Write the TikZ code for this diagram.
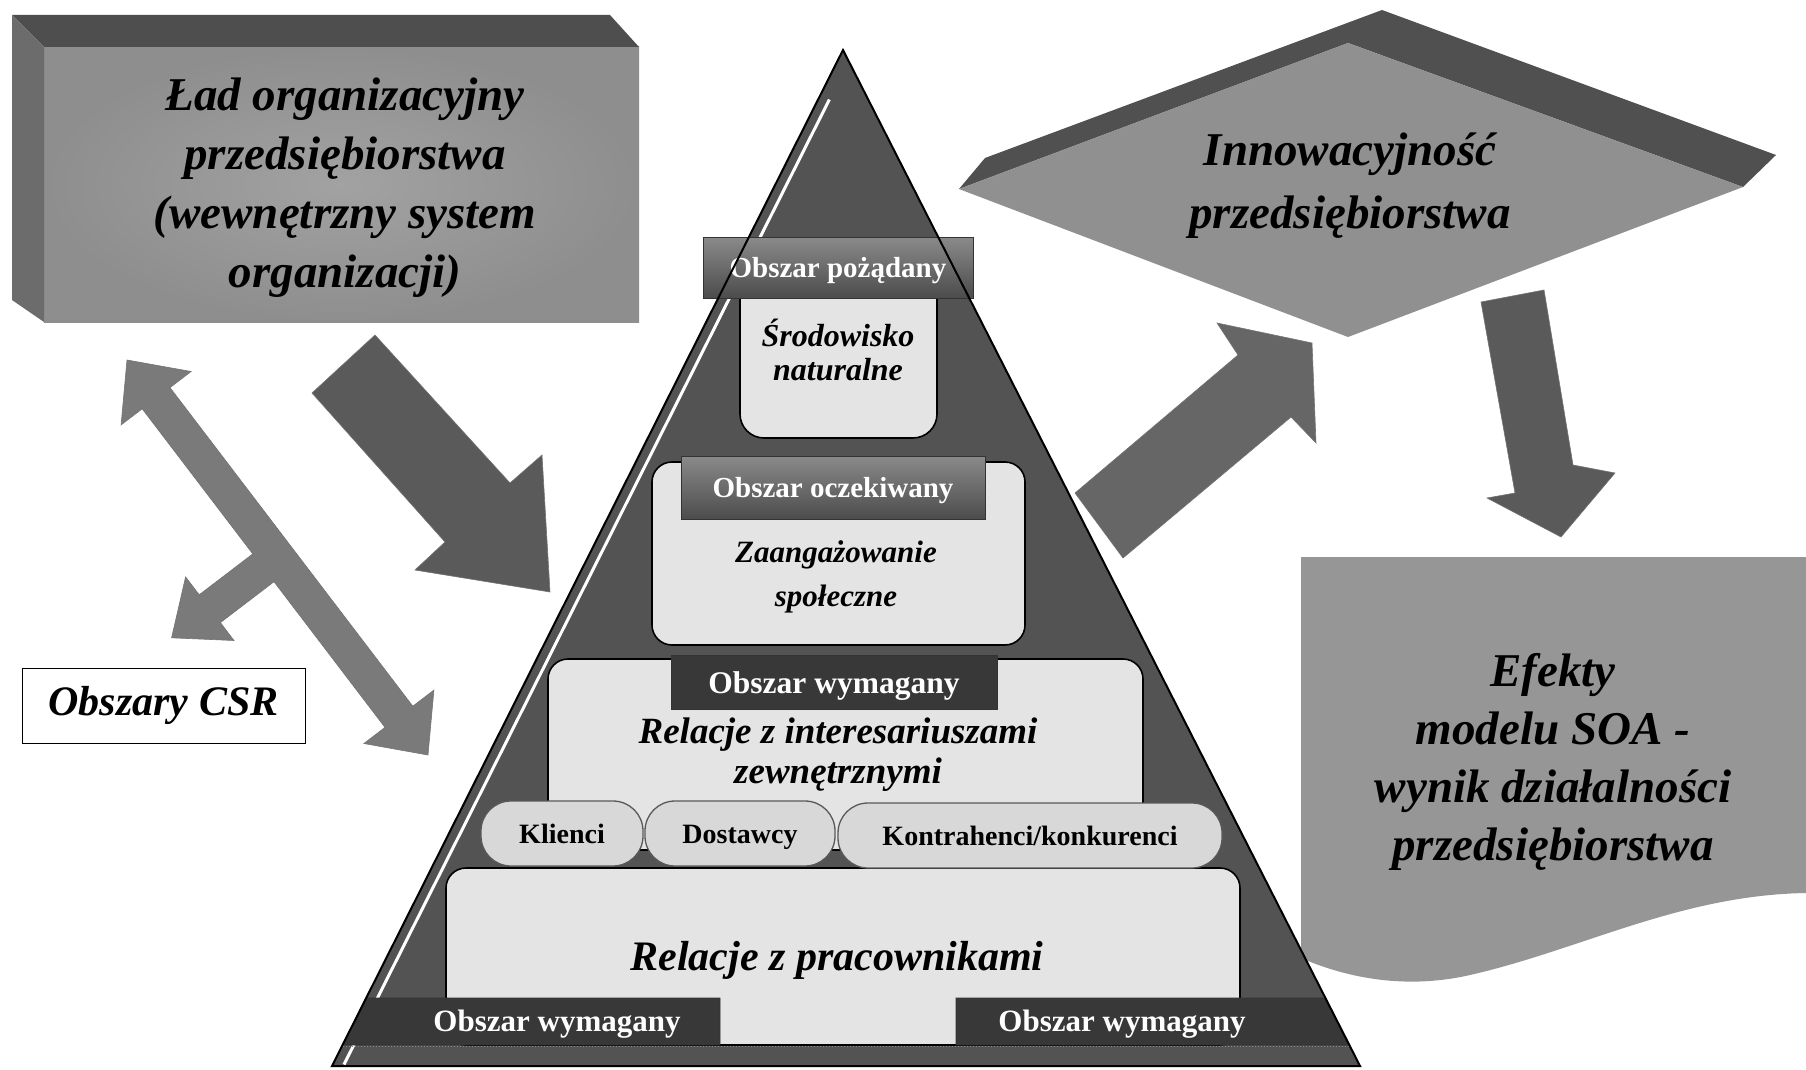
\documentclass[tikz,border=0pt]{standalone}
\usepackage{fontspec}
\setmainfont{Liberation Serif}
\definecolor{boxfront}{HTML}{8E8E8E}
\definecolor{boxfrontin}{HTML}{A2A2A2}
\definecolor{boxtop}{HTML}{4E4E4E}
\definecolor{boxleft}{HTML}{6C6C6C}
\definecolor{diaband}{HTML}{505050}
\definecolor{diaface}{HTML}{909090}
\definecolor{efface}{HTML}{969696}
\definecolor{pyr}{HTML}{535353}
\definecolor{innerc}{HTML}{E4E4E4}
\definecolor{tabtop}{HTML}{8A8A8A}
\definecolor{tabbot}{HTML}{4C4C4C}
\definecolor{tabdark}{HTML}{383838}
\definecolor{pillc}{HTML}{D8D8D8}
\definecolor{arrA}{HTML}{5A5A5A}
\definecolor{arrB}{HTML}{7A7A7A}
\definecolor{arrC}{HTML}{666666}
\begin{document}
\begin{tikzpicture}[x=1pt,y=-1pt,
  bigtitle/.style={font=\bfseries\itshape\fontsize{47}{59}\selectfont, align=center, inner sep=0pt},
  midtitle/.style={font=\bfseries\itshape\fontsize{32}{34}\selectfont, align=center, inner sep=0pt},
  tabtxt/.style={font=\bfseries\fontsize{30}{32}\selectfont, text=white, inner sep=0pt, anchor=base},
  pilltxt/.style={font=\bfseries\fontsize{28}{30}\selectfont, inner sep=0pt, anchor=base},
  innerbox/.style={fill=innerc, draw=black, line width=1.6pt, rounded corners=20pt},
  tabbox/.style={draw=black!80, line width=0.8pt},
  pillbox/.style={fill=pillc, draw=black!65, line width=1.3pt, rounded corners=30pt},
  blockarrow/.style={draw=black!55, line width=0.6pt, line join=miter}
]
\useasboundingbox (0,0) rectangle (1806,1070);
\fill[white] (0,0) rectangle (1806,1070);

% ---------- left 3D box ----------
\shade[inner color=boxfrontin, outer color=boxfront] (44,47) rectangle (639,322);
\fill[boxtop] (12,15) -- (610,15) -- (639,47) -- (44,47) -- cycle;
\fill[boxleft] (12,15) -- (44,47) -- (44,322) -- (12,300) -- cycle;
\node[bigtitle] (lad) at (345,188) {Ład organizacyjny\\przedsiębiorstwa\\(wewnętrzny system\\organizacji)};

% ---------- diamond ----------
\fill[diaband] (959,189) -- (985,158) -- (1382,10) -- (1776,155) -- (1743,187) -- (1348,43) -- cycle;
\fill[diaface] (959,189) -- (1348,43) -- (1743,187) -- (1348,337) -- cycle;
\node[bigtitle, font=\bfseries\itshape\fontsize{47}{63}\selectfont] (inn) at (1350,186) {Innowacyjność\\przedsiębiorstwa};

% ---------- effects box ----------
\fill[efface] (1301,557) -- (1806,557) -- (1806,893)
  .. controls (1680,895) and (1580,950) .. (1470,975)
  .. controls (1400,991) and (1340,975) .. (1301,958) -- cycle;
\node[bigtitle, font=\bfseries\itshape\fontsize{47}{58}\selectfont] (ef) at (1553,762) {Efekty\\modelu SOA -\\wynik działalności\\przedsiębiorstwa};

% ---------- CSR label ----------
\node[draw=black, line width=1pt, fill=white, minimum width=283pt, minimum height=75pt,
      font=\bfseries\itshape\fontsize{42}{46}\selectfont, inner sep=0pt] (csr) at (163.5,705.5) {Obszary CSR};

% ---------- block arrows ----------
\fill[arrA, blockarrow] (375,335) -- (510,483) -- (542,455) -- (550,592) -- (415,570) -- (445,542) -- (312,393) -- cycle;
\fill[arrB, blockarrow] (127,360) -- (191.1,371.5) -- (170.0,387.6) -- (412.8,706.2) -- (433.9,690.1)
  -- (428,755) -- (363.9,743.5) -- (385.0,727.4) -- (274.0,581.7) -- (220.4,622.6) -- (234.0,640.5)
  -- (171.6,637.8) -- (185.6,576.9) -- (199.2,594.8) -- (252.8,553.9) -- (142.2,408.8) -- (121.1,424.9) -- cycle;
\fill[arrC, blockarrow] (1075,493) -- (1238,355) -- (1217,323) -- (1312,343) -- (1316,443) -- (1291,417) -- (1123,558) -- cycle;
\fill[arrA, blockarrow] (1481,302) -- (1544,290) -- (1573,465) -- (1615,473) -- (1561,537) -- (1487,498) -- (1515,493) -- cycle;

% ---------- pyramid ----------
\fill[pyr] (843,50) -- (1360,1066) -- (332,1066) -- cycle;
\draw[white, line width=3pt] (829.4,99.5) -- (344,1064.5);

% level 1
\draw[innerbox, rounded corners=24pt] (740,270) rectangle (937,438);
\shade[top color=tabtop, bottom color=tabbot, tabbox] (703,237) rectangle (973,298);
\node[tabtxt, font=\bfseries\fontsize{29}{32}\selectfont] (t1) at (838,277) {Obszar pożądany};
\node[midtitle] (l1) at (838,350) {Środowisko\\naturalne};

% level 2
\draw[innerbox] (652,462) rectangle (1025,645);
\shade[top color=tabtop, bottom color=tabbot, tabbox] (681,456) rectangle (985,519);
\node[tabtxt, font=\bfseries\fontsize{29}{32}\selectfont] (t2) at (833,497) {Obszar oczekiwany};
\node[midtitle, font=\bfseries\itshape\fontsize{31}{44}\selectfont] (l2) at (836,577) {Zaangażowanie\\społeczne};

% level 3
\draw[innerbox] (548,659) rectangle (1143,850);
\fill[tabdark, tabbox] (671,655) rectangle (997,709);
\node[tabtxt, font=\bfseries\fontsize{31.5}{32}\selectfont] (t3) at (834,693) {Obszar wymagany};
\node[midtitle, font=\bfseries\itshape\fontsize{37}{40}\selectfont] (l3) at (838,755) {Relacje z interesariuszami\\zewnętrznymi};

% level 4
\draw[innerbox] (446,868) rectangle (1240,1045);
\fill[tabdark, tabbox] (366.2,998) -- (720,998) -- (720,1045) -- (342.6,1045) -- cycle;
\fill[tabdark, tabbox] (956,998) -- (1325.4,998) -- (1349.3,1045) -- (956,1045) -- cycle;
\draw[black!45, line width=1pt, dotted] (342.6,1046) -- (1349.3,1046);
\node[font=\bfseries\itshape\fontsize{42}{46}\selectfont, inner sep=0pt, anchor=base] (l4) at (837,970) {Relacje z pracownikami};
\node[tabtxt, font=\bfseries\fontsize{31}{32}\selectfont] (t4) at (557,1031) {Obszar wymagany};
\node[tabtxt, font=\bfseries\fontsize{31}{32}\selectfont] (t5) at (1122,1031) {Obszar wymagany};

% pills
\draw[pillbox] (481,801) rectangle (643,866);
\draw[pillbox] (645,801) rectangle (835,866);
\draw[pillbox] (838,803) rectangle (1222,868);
\node[pilltxt] (p1) at (562,843) {Klienci};
\node[pilltxt] (p2) at (740,843) {Dostawcy};
\node[pilltxt] (p3) at (1030,845) {Kontrahenci/konkurenci};

% pyramid outline
\draw[black, line width=2pt, line join=miter] (843,50) -- (1360,1066) -- (332,1066) -- cycle;
\end{tikzpicture}
\end{document}
